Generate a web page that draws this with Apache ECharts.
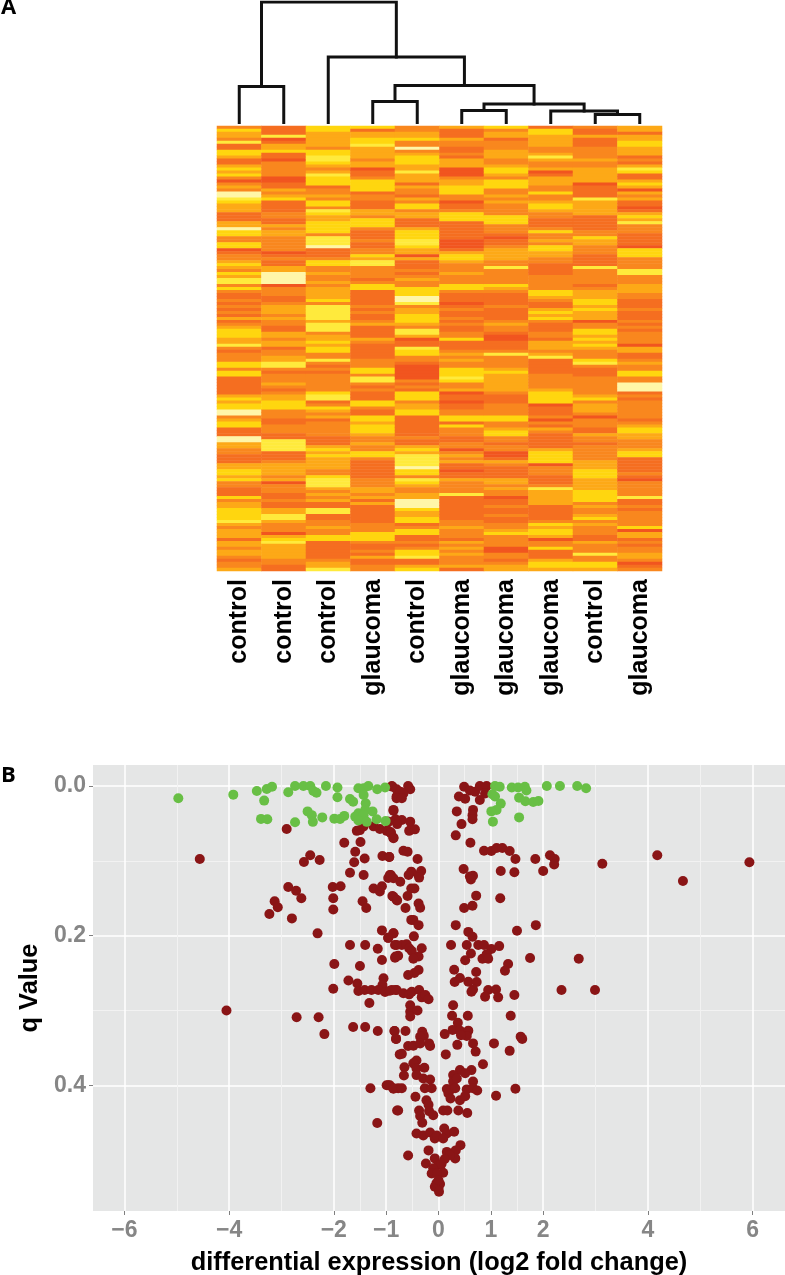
<!DOCTYPE html>
<html><head><meta charset="utf-8">
<style>html,body{margin:0;padding:0;background:#fff}#c{width:785px;height:1275px}</style>
<script src="https://cdn.jsdelivr.net/npm/echarts@6/dist/echarts.min.js"></script>
</head><body><div id="c"></div>
<script>
const sampleLabels = ["control","control","control","glaucoma","control","glaucoma","glaucoma","glaucoma","control","glaucoma"];
// heat levels, top to bottom, one string per sample (0 deep orange-red ... 6 pale)
const col1 = "24332 51144 31134 34202 32665 43331 11336 44224 40122 34324 35524 21121 21213 12344 43352 12224 42441 11111 34344 66234 41116 63322 11133 44342 21114 23344 44532 33313 32332 1223";
const col2 = "11150 13341 10222 22001 13234 11112 21132 33222 22012 11336 66602 22112 33323 22113 32331 22335 52122 23212 33444 22211 22211 55551 11233 33230 22211 21133 55322 20345 33333 2211";
const col3 = "44333 33244 55432 35444 12232 44254 33444 42555 61112 44223 22323 33342 55555 35552 33434 42252 12122 22224 55124 32312 22221 11343 43333 22455 53232 31155 11223 22441 11111 2335";
const col4 = "41334 45333 32330 11244 44122 11133 24442 11121 12243 55222 21244 11111 21211 23111 13211 11122 24425 52121 11442 11443 44432 23224 42111 11122 23323 13111 11122 24442 11213 1122";
const col5 = "22334 22623 44433 53331 32213 24423 31113 44455 43303 11121 23224 44665 23344 43255 30115 44221 00000 21214 44233 44111 11112 11343 55556 44254 32233 66643 34412 44112 12445 1134";
const col6 = "31113 22112 13330 00233 44422 01124 44111 11100 01344 32223 22244 21110 12112 12112 24111 23232 24445 42230 11011 22441 42221 12202 32311 01132 22251 11111 11223 22213 23232 2231";
const col7 = "42331 22233 32234 43244 42232 32222 44422 21011 23333 22522 22243 21111 21111 23221 00111 25222 23433 33332 11122 22442 23442 21220 01321 11133 23220 11211 21122 34222 20022 1233";
const col8 = "14433 33223 53223 01333 22422 34432 21112 42232 44332 21111 22222 44321 13434 21112 21333 23511 11122 22234 44401 11202 13211 11134 44402 22111 25333 33111 11243 44302 24111 3443";
const col9 = "21131 11222 23223 33330 11115 33333 11111 22433 22211 11522 22212 33344 34333 02244 34343 22245 21112 22222 34233 32022 21132 21222 22333 44433 33444 42322 34232 22113 22252 2443";
const col10 = "33133 44333 12135 41134 30323 11013 43522 21111 04442 22255 22233 32211 12111 21212 22203 31123 22442 26661 21222 22212 34433 22234 41111 12102 22225 11212 22224 03312 12233 2012";
const heatColors = ["#f1551f","#f56e20","#f9871e","#fda917","#ffd60f","#ffea3c","#fff6a8"];

// dendrogram merges: left position, left height, right position, right height, merge height
const merges = [
 [1.0,36,4.03,65.5,120.5],
 [0.5,0,1.5,0,36],
 [2.5,0,5.56,37,65.5],
 [4,21,7.125,18.5,37],
 [3.5,0,4.5,0,21],
 [6,12,8.25,11.5,18.5],
 [5.5,0,6.5,0,12],
 [7.5,0,9,8,11.5],
 [8.5,0,9.5,0,8]
];

// volcano plot
const greenX = [-4.97,-3.92,-3.47,-3.28,-3.18,-3.33,-3.39,-3.27,-2.87,-2.74,-2.58,-2.45,-2.39,-2.33,-2.5,-2.42,-2.40,-2.74,-2.22,-2.15,-1.93,-1.93,-1.99,-1.88,-1.80,-1.69,-1.63,-1.53,-1.43,-1.34,-1.43,-1.39,-1.40,-1.53,-1.59,-1.26,-1.43,-1.53,-1.37,-1.18,-1.17,-1.02,-1.01,1.08,1.17,1.40,1.52,1.65,1.68,1.54,1.66,1.81,1.91,1.03,1.08,1.19,1.11,1.01,1.54,1.04,2.07,2.32,2.65,2.82];
const greenY = [.0165,.0116,.0067,.004,.001,.0196,.044,.0446,.0085,0,0,0,.0067,.009,.034,.039,.048,.0486,.042,0,.002,.015,.0437,.044,.04,.0174,.021,.003,.003,0,.012,.023,.032,.0365,.041,.034,.039,.046,.048,.0446,.0045,.002,.047,0,.001,.002,.002,.001,.006,.0156,.0205,.0214,.02,.011,.014,.0236,.032,.034,.042,.0477,0,0,0,.003];
const redX = [-2.90,-4.56,-2.45,-2.57,-2.27,-2.87,-2.72,-2.62,-3.13,-3.07,-3.23,-2.80,-2.31,-2.02,-1.87,-2.01,-2.01,-1.99,-2.01,-1.80,-1.59,-1.49,-1.61,-1.41,-1.69,-1.43,-1.24,-1.12,-1.08,-1.45,-1.38,-1.56,-1.50,-1.43,-1.24,-1.12,-.99,-.91,-.86,-.96,-.86,-.80,-1.07,-.94,-.91,-.96,-1.08,-.86,-.96,-1.69,-1.40,-1.16,-.83,-.82,-1.08,-1.50,-1.72,-1.55,-1.05,-1.07,-1.53,-1.41,-1.28,-1.15,-1.02,-.89,-.80,-1.32,-.86,-.80,-4.05,-2.71,-2.29,-2.18,-1.63,-1.40,-1.16,-.84,-.81,-.74,-.99,-.93,-.86,-.77,-1.30,-.79,-1.17,-.89,-.80,
 -.88,-.80,-.73,-.58,-.54,-.67,-.80,-.70,-.86,-.96,-.82,-.70,-.79,-.54,-.56,-.45,-.96,-.91,-.86,-.67,-.59,-.94,-.40,-.52,-.57,-.33,-.38,-.37,-.93,-.86,-.73,-.52,-.46,-.59,-.88,-.79,-.63,-.38,-.35,-.52,-.48,-.38,-.47,-.86,-.96,-.80,-.70,-.61,-.56,-.51,-.32,-.38,-.48,-.77,-.83,-.38,-.46,-.58,-.93,-.82,-.67,-.56,-.51,-.37,-.32,-.25,-.19,-.54,-.54,-.40,-.54,
 .49,.60,.70,.79,.92,.89,.39,.51,.79,.35,.66,.65,.65,.44,.33,.61,.87,1.01,1.11,1.22,1.36,1.47,1.85,2.13,2.22,2.21,3.13,4.18,5.94,4.67,2.0,1.19,1.45,.48,.66,.60,.62,.72,1.18,.65,.49,.33,.57,.65,1.50,1.86,.24,.54,.76,.87,1.01,1.16,.62,.51,.84,.92,.95,1.75,2.68,1.33,1.27,.30,.72,.41,.31,.57,.73,.66,.63,.95,1.10,.89,1.14,1.45,2.35,2.99,.28,
 .26,.56,1.38,.37,.27,.41,.12,.57,.54,.43,.66,.36,.71,.14,1.06,1.36,1.57,1.60,.85,-.84,-.81,-.63,-.31,-.28,-.35,-.58,-.48,-.35,-.18,-.16,-.70,-.42,-.48,-.65,-.42,-.27,-.66,-.42,-.29,-.16,-.26,-.13,-.96,-.86,-.70,.41,.63,.28,.51,.28,.35,.66,.16,.25,.19,.32,.54,.66,.74,.23,.41,.51,1.10,1.47,-.44,-.23,-.19,-.77,-.37,-.18,-.35,-.10,-.31,.09,.17,.38,.55,-.42,-.29,-.16,-.07,-.03,.11,.16,.09,.30,.42,.33,.16,.32,.22,.12,-.19,-.58,-.24,-.07,0,-.10,.06,-.13,.09,-.03,-.04,0,.03,-.07,0,.01];
const redY = [.0575,.0976,.0927,.1016,.099,.135,.140,.150,.154,.162,.171,.177,.197,.135,.134,.150,.165,.238,.271,.0758,.088,.075,.102,.097,.116,.119,.137,.141,.134,.154,.163,.06,.059,.054,.054,.0575,.06,.062,.069,.0477,.032,.0477,.0936,.095,.119,.123,.193,.197,.203,.2125,.2125,.2175,.2125,.228,.2326,.2406,.26,.264,.257,.266,.274,.2727,.2727,.2727,.2754,.2727,.2727,.29,.148,.152,.30,.309,.309,.3316,.322,.322,.3275,.3275,.338,.3587,.40,.40,.404,.404,.404,.4336,.4505,0,.014,
 .001,.0045,.0076,0,.0045,.01,.0165,.0165,.033,.0477,.0446,.0455,.051,.0477,.06,.058,.06,.063,.07,.0865,.088,.095,.0976,.1145,.119,.1136,.119,.1225,.119,.1234,.128,.137,.137,.147,.147,.153,.163,.157,.1627,.179,.179,.186,.201,.197,.203,.2125,.2125,.2117,.217,.2206,.217,.228,.231,.2268,.2295,.246,.25,.2527,.2736,.2727,.277,.2785,.275,.2727,.2825,.2794,.285,.293,.3017,.30,.308,
 .001,.006,.0076,0,0,.01,.014,.017,.0187,.034,.032,.039,.0446,.051,.066,.076,.0865,.087,.083,.083,.087,.0976,.0976,.0927,.0976,.105,.104,.0927,.102,.127,.1136,.1136,.1154,.111,.12,.121,.125,.1466,.15,.16,.163,.186,.195,.2014,.1934,.186,.2125,.2125,.2125,.2125,.218,.214,.224,.233,.231,.225,.231,.23,.231,.238,.247,.2455,.2487,.2567,.262,.2616,.262,.272,.275,.2727,.272,.2816,.2825,.2794,.2727,.2727,.293,
 .307,.307,.307,.3164,.326,.327,.3316,.327,.334,.333,.344,.346,.355,.3587,.344,.354,.335,.338,.372,.3275,.338,.3275,.3285,.334,.335,.3476,.3471,.344,.344,.3476,.358,.367,.3707,.376,.3775,.3765,.387,.3864,.391,.3922,.404,.404,.40,.4046,.404,.3797,.3797,.3864,.384,.395,.391,.395,.405,.405,.411,.404,.4055,.404,.407,.4176,.42,.4145,.414,.4046,.4153,.42,.426,.4336,.4336,.4345,.441,.44,.45,.4336,.4336,.4336,.437,.4644,.467,.463,.471,.467,.4577,.4644,.471,.4622,.48,.487,.489,.4977,.4933,.4985,.487,.4938,.5045,.4977,.5066,.511,.505,.518,.517,.518,.531,.5379,.532,.5357,.5268,.5422];
const xMajor = [-6,-4,-2,-1,0,1,2,4,6];
const xMinor = [-5,-3,-1.5,-0.5,0.5,1.5,3,5];
const yMajor = [0,0.2,0.4];
const yMinor = [0.1,0.3];

const FONT = '"Liberation Sans", Arial, sans-serif';
const columns = [col1,col2,col3,col4,col5,col6,col7,col8,col9,col10].map(s => s.replace(/ /g,''));
const nRows = Math.max(...columns.map(s => s.length));
const heatData = [];
columns.forEach((s,c) => { for (let r=0;r<s.length;r++) heatData.push([c,r,+s[r]]); });
const rowCats = Array.from({length:nRows},(_,i)=>String(i));
const zip = (a,b) => a.map((v,i)=>[v,b[i]]);
const dendroSeries = merges.map(m => ({
  type:'line', xAxisIndex:1, yAxisIndex:1, symbol:'none', silent:true, animation:false,
  lineStyle:{color:'#111',width:3,cap:'square',join:'miter'},
  data:[[m[0],m[1]],[m[0],m[4]],[m[2],m[4]],[m[2],m[3]]]
}));
const hideAxis = {axisLine:{show:false},axisTick:{show:false},axisLabel:{show:false},splitLine:{show:false}};
const chart = echarts.init(document.getElementById('c'),null,{renderer:'canvas'});
chart.setOption({
  animation:false,
  backgroundColor:'#fff',
  grid:[
    {left:217,top:126,width:445,height:445,outerBoundsMode:'none'},
    {left:217,top:2,width:445,height:120.5,outerBoundsMode:'none'},
    {left:93,top:765,width:692,height:446,outerBoundsMode:'none',show:true,backgroundColor:'#e5e6e6',borderWidth:0}
  ],
  xAxis:[
    {type:'category',gridIndex:0,data:sampleLabels,axisLine:{show:false},axisTick:{show:false},splitLine:{show:false},
     axisLabel:{interval:0,rotate:90,margin:8,color:'#000',fontFamily:FONT,fontWeight:'bold',fontSize:25}},
    {type:'value',gridIndex:1,min:0,max:10,...hideAxis},
    {type:'value',gridIndex:2,min:-6.6,max:6.62,position:'bottom',axisLine:{show:false,onZero:false},
     axisTick:{show:true,length:4,lineStyle:{color:'#7f7f7f',width:1},customValues:xMajor},
     axisLabel:{customValues:xMajor,color:'#868686',fontFamily:FONT,fontWeight:'bold',fontSize:23,margin:8,
       formatter:v=>(v<0?'\u2212':'')+Math.abs(v)},
     splitLine:{show:true,lineStyle:{color:'#fff',width:1.5}},
     name:'differential expression (log2 fold change)',nameLocation:'middle',nameGap:39,
     nameTextStyle:{color:'#000',fontFamily:FONT,fontWeight:'bold',fontSize:25.4}},
    {type:'value',gridIndex:2,min:-6.6,max:6.62,position:'top',axisLine:{show:false,onZero:false},
     axisTick:{show:false,customValues:xMinor},axisLabel:{show:false,customValues:xMinor},
     splitLine:{show:true,lineStyle:{color:'#f2f2f2',width:1}}}
  ],
  yAxis:[
    {type:'category',gridIndex:0,data:rowCats,inverse:true,...hideAxis},
    {type:'value',gridIndex:1,min:0,max:120.5,...hideAxis},
    {type:'value',gridIndex:2,inverse:true,min:-0.028,max:0.568,axisLine:{show:false,onZero:false},
     axisTick:{show:true,length:4,lineStyle:{color:'#7f7f7f',width:1},customValues:yMajor},
     axisLabel:{customValues:yMajor,color:'#868686',fontFamily:FONT,fontWeight:'bold',fontSize:23,margin:7,
       formatter:v=>v.toFixed(1)},
     splitLine:{show:true,lineStyle:{color:'#fff',width:1.5}},
     name:'q Value',nameLocation:'middle',nameGap:51,nameRotate:90,
     nameTextStyle:{color:'#000',fontFamily:FONT,fontWeight:'bold',fontSize:25.4}},
    {type:'value',gridIndex:2,inverse:true,min:-0.028,max:0.568,position:'right',axisLine:{show:false,onZero:false},
     axisTick:{show:false,customValues:yMinor},axisLabel:{show:false,customValues:yMinor},
     splitLine:{show:true,lineStyle:{color:'#f2f2f2',width:1}}}
  ],
  visualMap:{show:false,type:'continuous',min:0,max:6,dimension:2,seriesIndex:0,inRange:{color:heatColors}},
  series:[
    {type:'heatmap',xAxisIndex:0,yAxisIndex:0,data:heatData,progressive:0,itemStyle:{borderWidth:0},emphasis:{disabled:true}},
    ...dendroSeries,
    {type:'scatter',xAxisIndex:2,yAxisIndex:2,data:zip(redX,redY),symbolSize:10,itemStyle:{color:'#8a1516',opacity:1}},
    {type:'scatter',xAxisIndex:2,yAxisIndex:2,data:zip(greenX,greenY),symbolSize:10,itemStyle:{color:'#68bf45',opacity:1}}
  ],
  graphic:[
    {type:'text',left:1,top:-3,style:{text:'A',fill:'#000',font:'bold 22px "Open Sans"'}},
    {type:'text',left:1,top:765,style:{text:'B',fill:'#000',font:'bold 22px "Open Sans"'}}
  ]
});
</script></body></html>
